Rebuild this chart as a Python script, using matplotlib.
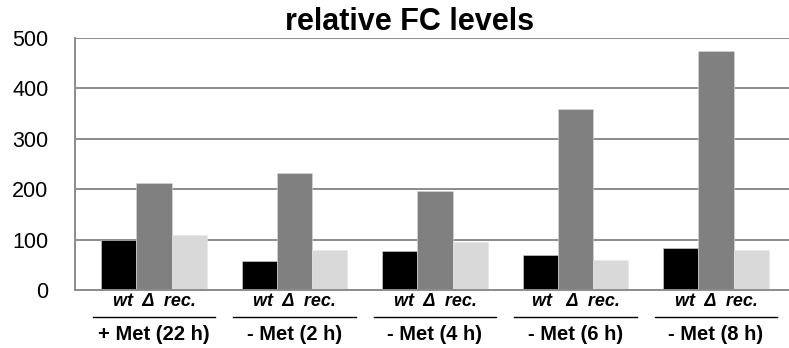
import matplotlib.pyplot as plt
import matplotlib.transforms as transforms
import numpy as np

# values
groups = ["+ Met (22 h)", "- Met (2 h)", "- Met (4 h)", "- Met (6 h)", "- Met (8 h)"]
sub_labels = ["wt  Δ  rec.", "wt  Δ  rec.", "wt  Δ  rec.", "wt   Δ  rec.", "wt  Δ  rec."]
wt = [100, 58, 78, 69, 84]
delta = [212, 232, 196, 359, 475]
rec = [110, 80, 95, 59, 80]
yticks = [0, 100, 200, 300, 400, 500]

plt.rcParams["font.family"] = ["Liberation Sans", "DejaVu Sans"]

fig = plt.figure(figsize=(7.89, 3.48), dpi=100)
ax = fig.add_axes([0.095, 0.1667, 0.905, 0.7241])

x = np.arange(len(groups))
w = 0.25
ax.bar(x - w, wt, w, color="#000000", edgecolor="#d9d9d9", linewidth=0.4, zorder=3)
ax.bar(x, delta, w, color="#808080", edgecolor="#d9d9d9", linewidth=0.4, zorder=3)
ax.bar(x + w, rec, w, color="#d9d9d9", edgecolor="#e6e6e6", linewidth=0.4, zorder=3)

ax.set_xlim(-0.563, 4.52)
ax.set_ylim(0, 500)
ax.set_yticks(yticks)
ax.tick_params(axis="y", length=0, pad=19, labelsize=15.5)
ax.set_xticks([])
ax.yaxis.grid(True, color="#8c8c8c", linewidth=1.4, zorder=1)
for s in ["top", "right"]:
    ax.spines[s].set_visible(False)
for s in ["left", "bottom"]:
    ax.spines[s].set_color("#8c8c8c")
    ax.spines[s].set_linewidth(1.4)
ax.spines["bottom"].set_zorder(4)

# group labels under the axis
trans = transforms.blended_transform_factory(ax.transData, fig.transFigure)
for i in range(len(groups)):
    ax.text(i, 1 - 301 / 348, sub_labels[i], transform=trans, ha="center", va="center",
            fontsize=13, fontweight="bold", fontstyle="italic", clip_on=False)
    ax.plot([i - 0.435, i + 0.435], [1 - 317 / 348] * 2, transform=trans, color="black",
            linewidth=1.0, clip_on=False)
    ax.text(i, 1 - 335 / 348, groups[i], transform=trans, ha="center", va="center",
            fontsize=14.5, fontweight="bold", clip_on=False)

fig.text(0.519, 1 - 22 / 348, "relative FC levels", ha="center", va="center",
         fontsize=22, fontweight="bold")

fig.savefig("out.png", dpi=100)
